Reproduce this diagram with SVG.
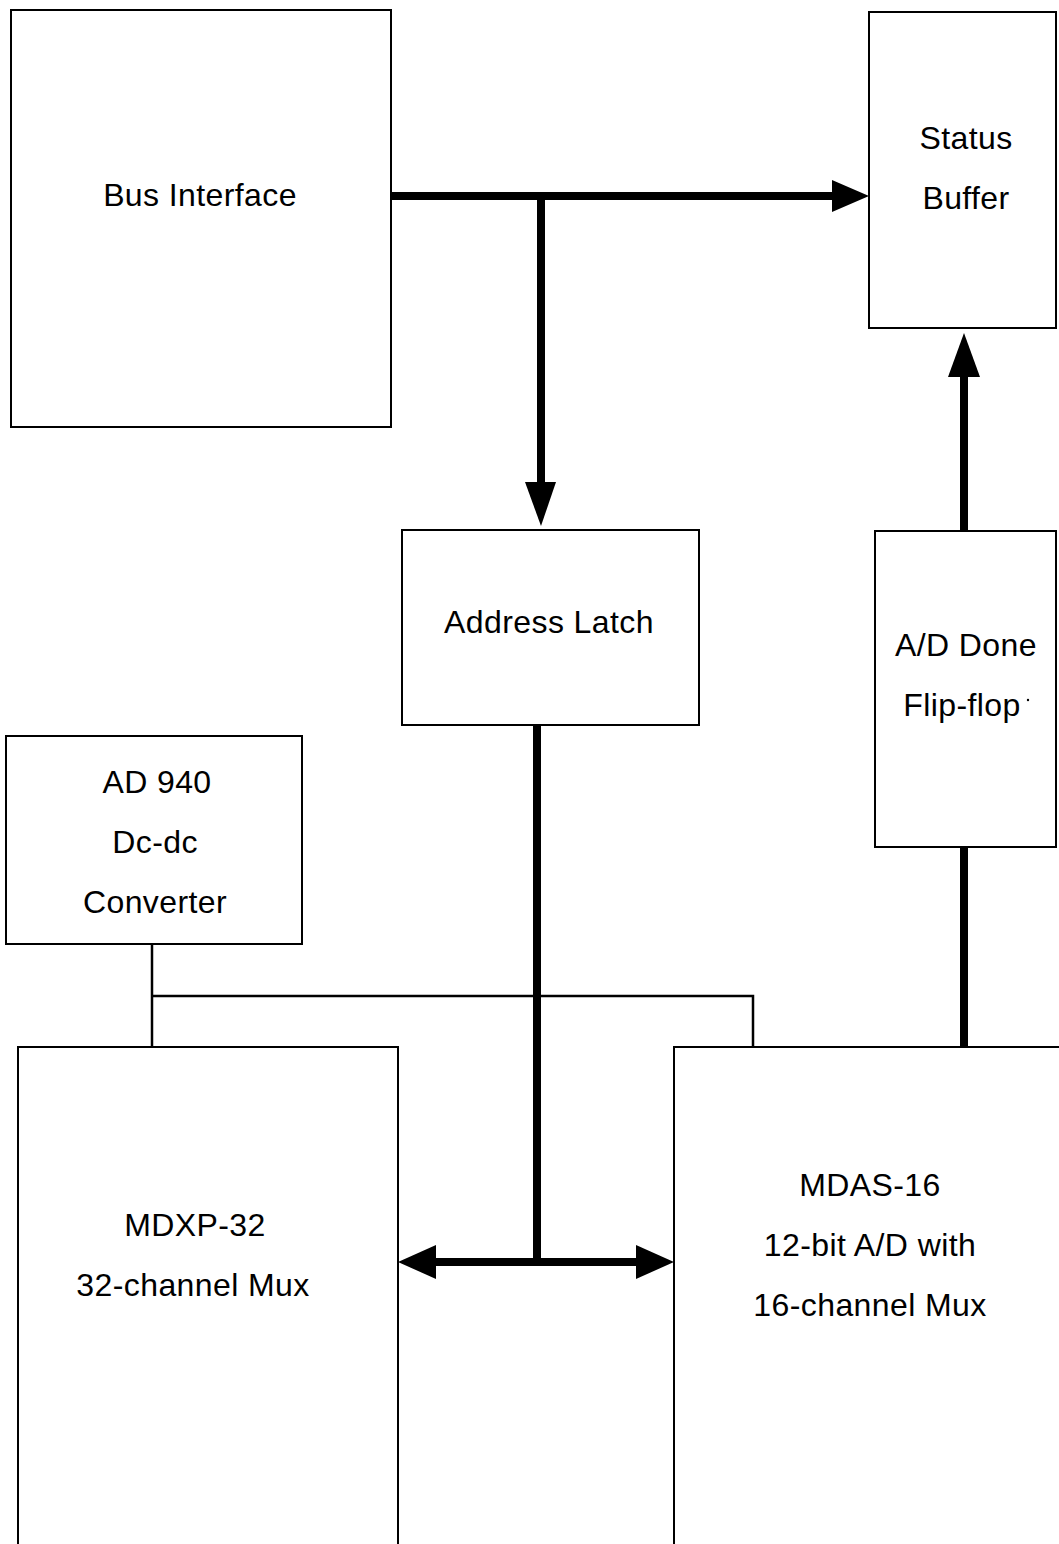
<svg xmlns="http://www.w3.org/2000/svg" width="1059" height="1544" viewBox="0 0 1059 1544">
<style>
.box{fill:#fff;stroke:#000;stroke-width:2}
.t{font-family:"Liberation Sans",Arial,sans-serif;font-size:32px;letter-spacing:0.4px;fill:#000;text-anchor:middle;dominant-baseline:central}
.thick{stroke:#000;stroke-width:8;fill:none}
.thin{stroke:#000;stroke-width:2.5;fill:none}
.head{fill:#000}
</style>
<rect width="1059" height="1544" fill="#fff"/>
<g id="connectors">
<line class="thick" x1="391" y1="196" x2="834" y2="196"/>
<polygon class="head" points="832,180 869,196 832,212"/>
<line class="thick" x1="541" y1="196" x2="541" y2="484"/>
<polygon class="head" points="525,482 556,482 541,526"/>
<line class="thick" x1="964" y1="531" x2="964" y2="375"/>
<polygon class="head" points="948,377 980,377 964,333"/>
<line class="thick" x1="964" y1="847" x2="964" y2="1047"/>
<line class="thick" x1="537" y1="725" x2="537" y2="1262"/>
<line class="thick" x1="434" y1="1262" x2="638" y2="1262"/>
<polygon class="head" points="436,1245 398,1262 436,1279"/>
<polygon class="head" points="636,1245 674,1262 636,1279"/>
<polyline class="thin" points="152,944 152,1047"/>
<polyline class="thin" points="152,996 753,996 753,1047"/>
</g>
<g id="bus-interface">
<rect class="box" x="11" y="10" width="380" height="417"/>
<text class="t" x="200" y="195">Bus Interface</text>
</g>
<g id="status-buffer">
<rect class="box" x="869" y="12" width="187" height="316"/>
<text class="t" x="966" y="138">Status</text>
<text class="t" x="966" y="198">Buffer</text>
</g>
<g id="address-latch">
<rect class="box" x="402" y="530" width="297" height="195"/>
<text class="t" x="549" y="622">Address Latch</text>
</g>
<g id="ad-done">
<rect class="box" x="875" y="531" width="181" height="316"/>
<text class="t" x="966" y="645">A/D Done</text>
<text class="t" x="962" y="705">Flip-flop</text>
<circle cx="1028" cy="700" r="1.2" fill="#000"/>
</g>
<g id="ad940">
<rect class="box" x="6" y="736" width="296" height="208"/>
<text class="t" x="157" y="782">AD 940</text>
<text class="t" x="155" y="842">Dc-dc</text>
<text class="t" x="155" y="902">Converter</text>
</g>
<g id="mdxp32">
<rect class="box" x="18" y="1047" width="380" height="510"/>
<text class="t" x="195" y="1225">MDXP-32</text>
<text class="t" x="193" y="1285">32-channel Mux</text>
</g>
<g id="mdas16">
<rect class="box" x="674" y="1047" width="400" height="510"/>
<text class="t" x="870" y="1185">MDAS-16</text>
<text class="t" x="870" y="1245">12-bit A/D with</text>
<text class="t" x="870" y="1305">16-channel Mux</text>
</g>
</svg>
